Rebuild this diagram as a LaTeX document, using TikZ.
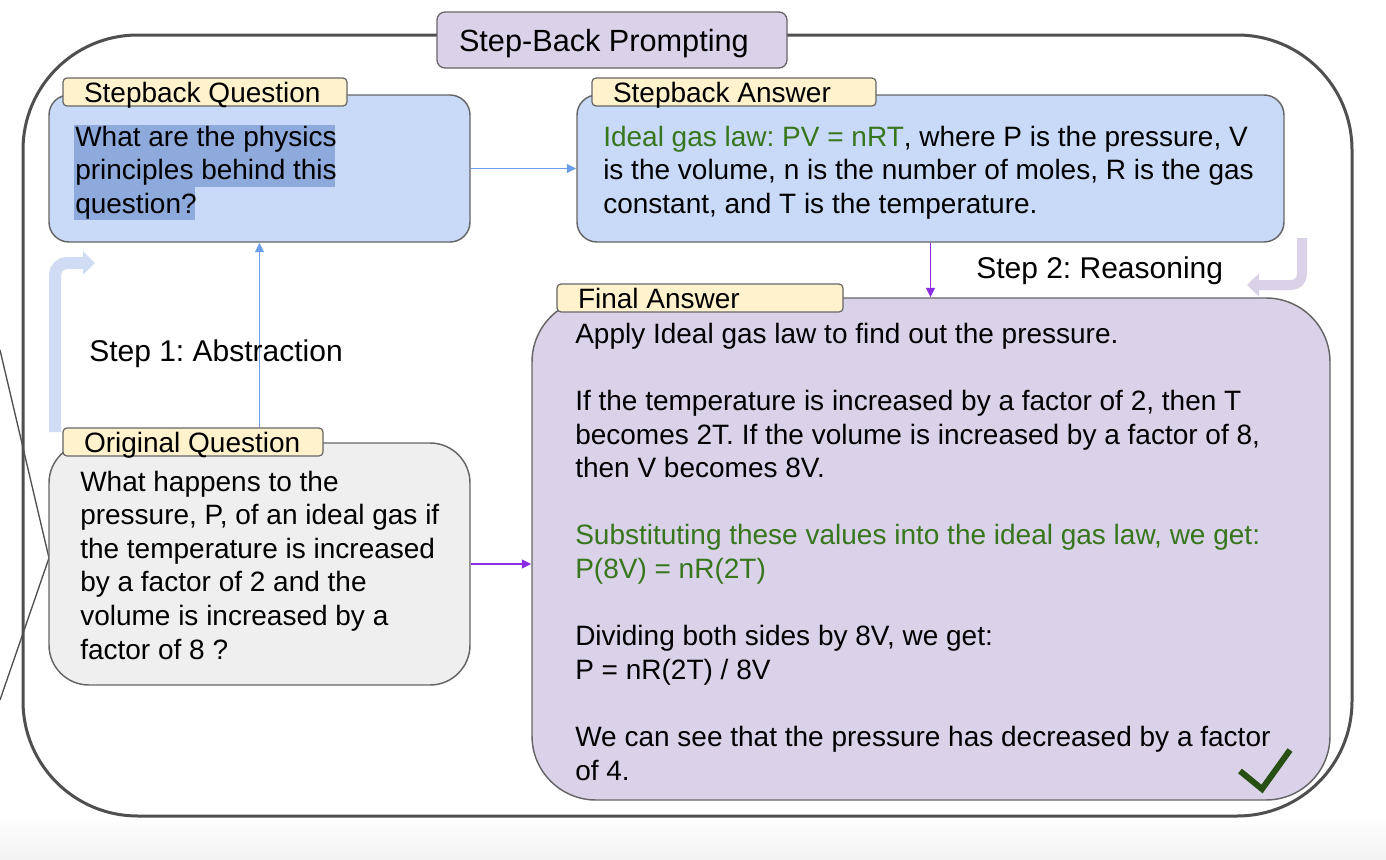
\documentclass[tikz,border=0pt]{standalone}
\usepackage{fontspec}
\setmainfont{Liberation Sans}
\usetikzlibrary{arrows.meta}
\frenchspacing
\definecolor{boxblue}{HTML}{C9DAF8}
\definecolor{lav}{HTML}{D9D2E9}
\definecolor{tabyel}{HTML}{FFF2CC}
\definecolor{oqgray}{HTML}{EFEFEF}
\definecolor{edgegray}{HTML}{666666}
\definecolor{outergray}{HTML}{4F4F4F}
\definecolor{hl}{HTML}{8EA9DB}
\definecolor{tgreen}{HTML}{38761D}
\definecolor{ablue}{HTML}{6D9EEB}
\definecolor{apurple}{HTML}{8B2BE2}
\definecolor{thickblue}{HTML}{CFDCF4}
\definecolor{thicklav}{HTML}{D9D2E9}
\definecolor{chk}{HTML}{274E13}
\newcommand\bdyfont{\fontsize{21}{25.2}\selectfont}
\newcommand\stpfont{\fontsize{22.5}{27}\selectfont}
\begin{document}
\begin{tikzpicture}[x=0.75pt,y=-0.75pt,
  card/.style={draw=edgegray, line width=1.1pt, inner sep=0pt},
  tab/.style={draw=edgegray, fill=tabyel, line width=0.9pt, rounded corners=3pt,
    inner xsep=15.75pt, inner ysep=0pt, minimum height=21pt,
    text height=17pt, text depth=2pt, font=\bdyfont},
  body/.style={anchor=base west, inner sep=0pt, align=left, font=\bdyfont},
  steplabel/.style={anchor=base west, inner sep=0pt, font=\stpfont},
  thinblue/.style={ablue, line width=1.2pt, -{Triangle[length=7pt,width=6.5pt]}},
  thinpurple/.style={apurple, line width=1.2pt, -{Triangle[length=7pt,width=6.5pt]}},
  fatarrow/.style={line width=9pt, -{Triangle[length=9pt,width=17pt]}}
]
\fill[white] (0,0) rectangle (1386,860);
\useasboundingbox (0,0) rectangle (1386,860);
\shade[top color=white, bottom color=black!5] (0,815) rectangle (1386,860);

% outer container
\draw[outergray, line width=2.25pt, rounded corners=86pt] (23,35) rectangle (1352,816);

% left diagonal lines
\draw[outergray, line width=1pt] (0,350) -- (49,558) -- (0,700);

% title
\node[draw=edgegray, fill=lav, line width=1pt, rounded corners=6pt,
  minimum width=262.5pt, minimum height=42pt, inner xsep=16.5pt, inner ysep=0pt,
  text height=19pt, text depth=2.5pt, font=\fontsize{23}{27}\selectfont]
  (title) at (612,40) {\makebox[229.5pt][l]{Step-Back Prompting}};

% fat decorative arrows
\coordinate (fb1) at (55,432);
\coordinate (fb2) at (55,263);
\coordinate (fb3) at (95,263);
\draw[fatarrow, thickblue, rounded corners=9pt] (fb1) -- (fb2) -- (fb3);
\coordinate (fl1) at (1302,238);
\coordinate (fl2) at (1302,285);
\coordinate (fl3) at (1247,285);
\draw[fatarrow, thicklav, line width=7.5pt, rounded corners=8pt] (fl1) -- (fl2) -- (fl3);

% boxes
\node[card, fill=boxblue, rounded corners=15pt, minimum width=315.75pt, minimum height=110.25pt] (sq) at (259.5,168.5) {};
\node[card, fill=boxblue, rounded corners=15pt, minimum width=530.25pt, minimum height=110.25pt] (sa) at (930.5,168.5) {};
\node[card, fill=lav, rounded corners=48pt, minimum width=598.5pt, minimum height=376.5pt] (fa) at (931,549) {};
\node[card, fill=oqgray, rounded corners=30pt, minimum width=315.75pt, minimum height=181.5pt] (oq) at (259.5,564) {};

% connectors
\draw[thinblue] (sq.east) -- (sa.west);
\draw[thinblue] (oq.north) -- (sq.south);
\draw[thinpurple] (sa.south) -- (sa.south |- fa.north);
\draw[thinpurple] (oq.east) -- (oq.east -| fa.west);

% tabs
\node[tab] (sqtab) at (205,92) {\makebox[181.5pt][l]{Stepback Question}};
\node[tab] (satab) at (734,92) {\makebox[181.5pt][l]{Stepback Answer}};
\node[tab] (fatab) at (700,298) {\makebox[183pt][l]{Final Answer}};
\node[tab] (oqtab) at (193,442) {\makebox[163.5pt][l]{Original Question}};

% highlight
\fill[hl] (74,125) rectangle (335,187);
\fill[hl] (74,187) rectangle (195,220);

% texts (base anchor = baseline of the last line)
\node[body] (sqtext) at (75,213.2) {What are the physics\\principles behind this\\question?};
\node[body] (satext) at (603,213.2) {\textcolor{tgreen}{Ideal gas law: PV = nRT}, where P is the pressure, V\\is the volume, n is the number of moles, R is the gas\\constant, and T is the temperature.};
\node[body] (oqtext) at (80,659) {What happens to the\\pressure, P, of an ideal gas if\\the temperature is increased\\by a factor of 2 and the\\volume is increased by a\\factor of 8 ?};
\node[body] (fatext) at (575,780) {Apply Ideal gas law to find out the pressure.\\[25.2pt]%
If the temperature is increased by a factor of 2, then T\\%
becomes 2T. If the volume is increased by a factor of 8,\\%
then V becomes 8V.\\[25.2pt]%
\textcolor{tgreen}{Substituting these values into the ideal gas law, we get:}\\%
\textcolor{tgreen}{P(8V) = nR(2T)}\\[25.2pt]%
Dividing both sides by 8V, we get:\\%
P = nR(2T) / 8V\\[25.2pt]%
We can see that the pressure has decreased by a factor\\%
of 4.};

% step labels
\node[steplabel] (step1) at (89,361) {Step 1: Abstraction};
\node[steplabel] (step2) at (976,278) {Step 2: Reasoning};

% check mark
\draw[chk, line width=4.5pt] (1240,771) -- (1262,789) -- (1290,750);
\end{tikzpicture}
\end{document}
